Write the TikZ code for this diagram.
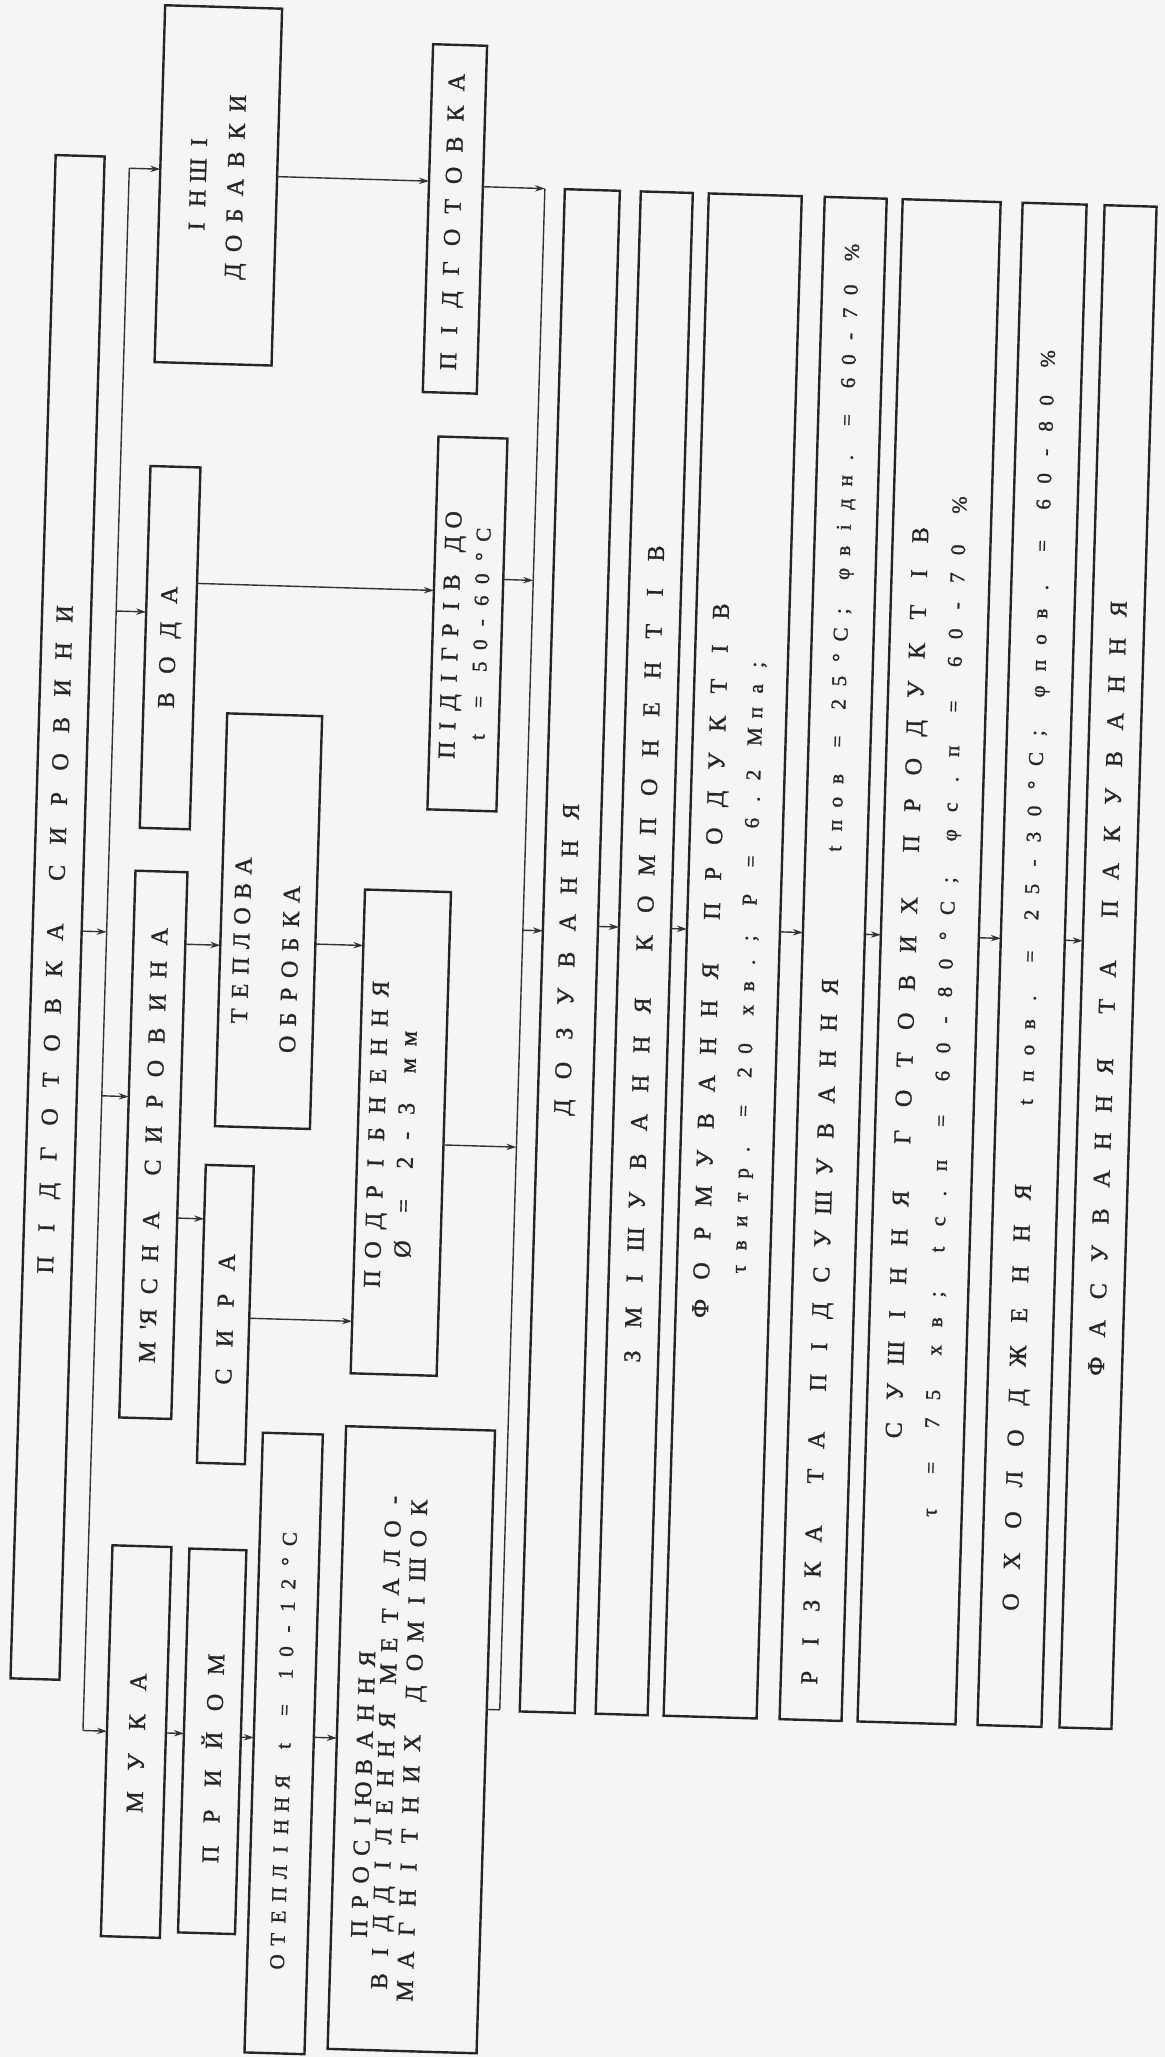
\documentclass[tikz,border=0pt]{standalone}
\usepackage{fontspec}
\setmainfont{Liberation Serif}
\newfontfamily\twfont{Liberation Serif}[FakeBold=1.3]
\usetikzlibrary{arrows.meta}
\newlength\twp
\newlength\pxu
\setlength\pxu{0.5pt}
\makeatletter
\def\tw@end{\tw@end}
\newcommand\tw[2]{\setlength\twp{#1\pxu}\tw@loop#2\tw@end}
\def\tw@loop#1{\ifx\tw@end#1\else\tw@char{#1}\expandafter\tw@loop\fi}
\def\tw@char#1{\ifx~#1\hbox to .6\twp{}\else\hbox to\twp{\hss#1\hss}\fi}
\makeatother
\newcommand\blkbox[5]{\node[blk, minimum width={(#3-#2)*0.5pt}, minimum height={(#5-#4)*0.5pt}] (#1) at ({(#2+#3)/2},{(#4+#5)/2}) {};}
\begin{document}
\begin{tikzpicture}[x=0.5pt,y=-0.5pt,
  blk/.style={draw=black!85, line width=1.2pt, inner sep=0pt, outer sep=0pt, rectangle},
  con/.style={draw=black!80, line width=0.7pt},
  arr/.style={con, -{Stealth[length=5pt,width=3.2pt]}},
  txt/.style={rotate=90, inner sep=0pt, text=black!85, font=\twfont\fontsize{12}{14}\selectfont},
  sml/.style={txt, font=\twfont\fontsize{10.5}{12}\selectfont}]
\path[use as bounding box, fill=black!4] (0,0) rectangle (1165,2057);
\begin{scope}[transform canvas={rotate around={-1.7:(582,1028)}}]
% boxes
\blkbox{psyr}{30}{79}{171}{1695}
\blkbox{inshi}{135}{252}{18}{375}
\blkbox{voda}{134}{184}{479}{841}
\blkbox{myas}{131}{183}{884}{1431}
\blkbox{muka}{128}{187}{1559}{1950}
\blkbox{pidg}{404}{458}{49}{397}
\blkbox{pidigr}{421}{490}{441}{814}
\blkbox{tepl}{218}{313}{724}{1137}
\blkbox{syra}{210}{258}{1176}{1474}
\blkbox{podr}{361}{447}{896}{1380}
\blkbox{pryi}{205}{262}{1560}{1944}
\blkbox{otep}{275}{335}{1442}{2062}
\blkbox{pros}{358}{507}{1433}{2056}
\blkbox{doz}{540}{595}{190}{1713}
\blkbox{zmish}{616}{668}{190}{1713}
\blkbox{form}{684}{777}{190}{1713}
\blkbox{rizka}{800}{862}{190}{1713}
\blkbox{sush}{878}{976}{190}{1713}
\blkbox{okhol}{998}{1062}{190}{1713}
\blkbox{fas}{1080}{1132}{190}{1713}
% texts
\node[txt] (t1) at (55,955) {\tw{37}{ПІДГОТОВКА~СИРОВИНИ}};
\node[txt] (t2a) at (173,196) {\tw{28}{ІНШІ}};
\node[txt] (t2b) at (213,198) {\tw{28}{ДОБАВКИ}};
\node[txt] (t3) at (159,660) {\tw{35}{ВОДА}};
\node[txt] (t4) at (157,1157) {\tw{33}{М{'Я}СНА~СИРОВИНА}};
\node[txt] (t5) at (158,1755) {\tw{40}{МУКА}};
\node[txt] (t6) at (431,226) {\tw{31}{ПІДГОТОВКА}};
\node[txt] (t7a) at (441,639) {\tw{24}{ПІДІГРІВ~ДО}};
\node[sml] (t7b) at (469,639) {\tw{22}{t~=~50-60°C}};
\node[txt] (t8a) at (239,951) {\tw{25}{ТЕПЛОВА}};
\node[txt] (t8b) at (288,978) {\tw{25}{ОБРОБКА}};
\node[txt] (t9) at (234,1330) {\tw{38}{СИРА}};
\node[txt] (t10a) at (382,1140) {\tw{29}{ПОДРІБНЕННЯ}};
\node[txt] (t10b) at (409,1149) {\tw{27}{Ø~=~2-3~мм}};
\node[txt] (t11) at (233,1770) {\tw{38}{ПРИЙОМ}};
\node[sml] (t12) at (305,1759) {\tw{22.5}{ОТЕПЛІННЯ~t~=~10-12°C}};
\node[txt] (t13a) at (386,1800) {\tw{27}{ПРОСІЮВАННЯ}};
\node[txt] (t13b) at (410,1746) {\tw{29}{ВІДДІЛЕННЯ~МЕТАЛО-}};
\node[txt] (t13c) at (436,1754) {\tw{31}{МАГНІТНИХ~ДОМІШОК}};
\node[txt] (t14) at (567,960) {\tw{37}{ДОЗУВАННЯ}};
\node[txt] (t15) at (642,953) {\tw{39}{ЗМІШУВАННЯ~КОМПОНЕНТІВ}};
\node[txt] (t16a) at (711,956) {\tw{37.5}{ФОРМУВАННЯ~ПРОДУКТІВ}};
\node[sml] (t16b) at (748,962) {\tw{24}{τвитр.~=~20~хв.;~Р~=~6.2~Мпа;}};
\node[txt] (t17a) at (831,1325) {\tw{36}{РІЗКА~ТА~ПІДСУШУВАННЯ}};
\node[sml] (t17b) at (831,543) {\tw{23.3}{tпов~=~25°C;~φвідн.~=~60-70~\%}};
\node[txt] (t18a) at (908,973) {\tw{38.6}{СУШІННЯ~ГОТОВИХ~ПРОДУКТІВ}};
\node[sml] (t18b) at (946,998) {\tw{28}{τ~=~75~хв;~tс.п~=~60-80°С;~φс.п~=~60-70~\%}};
\node[txt] (t19a) at (1030,1384) {\tw{41}{ОХОЛОДЖЕННЯ}};
\node[sml] (t19b) at (1030,717) {\tw{26}{tпов.~=~25-30°С;~φпов.~=~60-80~\%}};
\node[txt] (t20) at (1106,972) {\tw{37.5}{ФАСУВАННЯ~ТА~ПАКУВАННЯ}};
% buses
\coordinate (b1t) at (104,182);
\coordinate (b1b) at (104,1745);
\coordinate (b2t) at (520,190);
\coordinate (b2b) at (520,1712);
\draw[con] (b1t) -- (b1b);
\draw[con] (b2t) -- (b2b);
\draw[arr] (b1t) -- (inshi.west |- b1t);
\draw[arr] (b1b) -- (muka.west |- b1b);
\draw[arr] (pidg.east |- b2t) -- (b2t);
\draw[con] (pros.east |- b2b) -- (b2b);
\draw[arr] (psyr.east |- 0,946) -- (b1t |- 0,946);
\draw[arr] (b1t |- 0,625) -- (voda.west |- 0,625);
\draw[arr] (b1t |- 0,1110) -- (myas.west |- 0,1110);
\draw[arr] (inshi.east |- 0,186) -- (pidg.west |- 0,186);
\draw[arr] (voda.east |- 0,595) -- (pidigr.west |- 0,595);
\draw[arr] (pidigr.east |- 0,582) -- (b2t |- 0,582);
\draw[arr] (myas.east |- 0,956) -- (tepl.west |- 0,956);
\draw[arr] (tepl.east |- 0,952) -- (podr.west |- 0,952);
\draw[arr] (myas.east |- 0,1230) -- (syra.west |- 0,1230);
\draw[arr] (syra.east |- 0,1328) -- (podr.west |- 0,1328);
\draw[arr] (podr.east |- 0,1149) -- (b2t |- 0,1149);
\draw[arr] (muka.east |- 0,1745) -- (pryi.west |- 0,1745);
\draw[arr] (pryi.east |- 0,1747) -- (otep.west |- 0,1747);
\draw[arr] (otep.east |- 0,1745) -- (pros.west |- 0,1745);
\draw[arr] (b2t |- 0,932) -- (doz.west |- 0,932);
\draw[arr] (doz.east |- 0,926) -- (zmish.west |- 0,926);
\draw[arr] (zmish.east |- 0,926) -- (form.west |- 0,926);
\draw[arr] (form.east |- 0,926) -- (rizka.west |- 0,926);
\draw[arr] (rizka.east |- 0,926) -- (sush.west |- 0,926);
\draw[arr] (sush.east |- 0,926) -- (okhol.west |- 0,926);
\draw[arr] (okhol.east |- 0,926) -- (fas.west |- 0,926);
\end{scope}
\end{tikzpicture}
\end{document}
